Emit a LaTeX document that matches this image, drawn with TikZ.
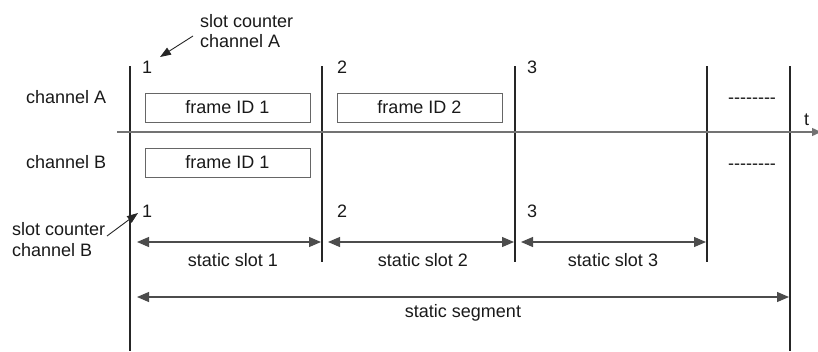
\documentclass[tikz,border=0pt]{standalone}
\usepackage{fontspec}
\setmainfont{Liberation Sans}
\usetikzlibrary{arrows.meta}
\newcommand\dashrow{-\kern0pt-\kern0pt-\kern0pt-\kern0pt-\kern0pt-\kern0pt-\kern0pt-}
\begin{document}
\begin{tikzpicture}[x=1pt,y=-1pt,
  txt/.style={font=\fontsize{18}{21}\selectfont, text=black!90, inner sep=0pt},
  slotline/.style={line width=1.9pt, draw=black!85},
  axisline/.style={line width=1.3pt, draw=black!55, -{Triangle[length=9pt,width=8pt]}},
  framebox/.style={txt, draw=black!60, line width=0.9pt, minimum width=165pt, minimum height=29pt},
  dimarrow/.style={line width=1.1pt, draw=black!70,
    {Triangle[length=12pt,width=10pt]}-{Triangle[length=12pt,width=10pt]}},
  segarrow/.style={line width=1.1pt, draw=black!70,
    {Triangle[length=12pt,width=10pt]}-{Triangle[length=12pt,width=10pt]}},
  ptrarrow/.style={line width=0.9pt, draw=black!85, -{Triangle[length=11pt,width=8pt]}}]
\useasboundingbox (0,0) rectangle (818,351);

% slot boundaries
\coordinate (s0t) at (130,66);  \coordinate (s0b) at (130,351);
\coordinate (s1t) at (322,66);  \coordinate (s1b) at (322,262);
\coordinate (s2t) at (515,66);  \coordinate (s2b) at (515,262);
\coordinate (s3t) at (707,66);  \coordinate (s3b) at (707,262);
\coordinate (s4t) at (790,66);  \coordinate (s4b) at (790,351);
\foreach \i in {0,...,4} \draw[slotline] (s\i t) -- (s\i b);

% time axis
\coordinate (ax0) at (117,132);
\coordinate (ax1) at (821,132);
\draw[axisline] (ax0) -- (ax1);
\node[txt, anchor=base west] (tlbl) at (804,125) {t};

% channel labels
\node[txt, anchor=base west] (chA) at (26,103) {channel A};
\node[txt, anchor=base west] (chB) at (26,168) {channel B};

% frames
\node[framebox] (fA1) at (227.5,107.5) {frame ID 1};
\node[framebox] (fA2) at (419.5,107.5) {frame ID 2};
\node[framebox] (fB1) at (227.5,162.5) {frame ID 1};

% dynamic continuation
\node[txt, anchor=base] (dotsA) at (752,103.5) {\dashrow};
\node[txt, anchor=base] (dotsB) at (752,169.5) {\dashrow};

% slot counters, channel A
\node[txt, anchor=base west] (cA1) at (142,73) {1};
\node[txt, anchor=base west] (cA2) at (337,73) {2};
\node[txt, anchor=base west] (cA3) at (527,73) {3};
\node[txt, anchor=base west] (scA1) at (200,27) {slot counter};
\node[txt, anchor=base west] (scA2) at (200,47) {channel A};
\coordinate (pA0) at (193,36);
\coordinate (pA1) at (160,57);
\draw[ptrarrow] (pA0) -- (pA1);

% slot counters, channel B
\node[txt, anchor=base west] (cB1) at (142,217) {1};
\node[txt, anchor=base west] (cB2) at (337,217) {2};
\node[txt, anchor=base west] (cB3) at (527,217) {3};
\node[txt, anchor=base west] (scB1) at (12,235) {slot counter};
\node[txt, anchor=base west] (scB2) at (12,256) {channel B};
\coordinate (pB0) at (107,236);
\coordinate (pB1) at (138,213);
\draw[ptrarrow] (pB0) -- (pB1);

% static slot extents
\coordinate (d1a) at (137,242); \coordinate (d1b) at (321,242);
\coordinate (d2a) at (328,242); \coordinate (d2b) at (514,242);
\coordinate (d3a) at (521,242); \coordinate (d3b) at (706,242);
\draw[dimarrow] (d1a) -- (d1b);
\draw[dimarrow] (d2a) -- (d2b);
\draw[dimarrow] (d3a) -- (d3b);
\node[txt, anchor=base] (ss1) at (233,266) {static slot 1};
\node[txt, anchor=base] (ss2) at (423,266) {static slot 2};
\node[txt, anchor=base] (ss3) at (613,266) {static slot 3};

% static segment extent
\coordinate (sga) at (137,297); \coordinate (sgb) at (789,297);
\draw[segarrow] (sga) -- (sgb);
\node[txt, anchor=base] (sseg) at (463,317) {static segment};
\end{tikzpicture}
\end{document}
